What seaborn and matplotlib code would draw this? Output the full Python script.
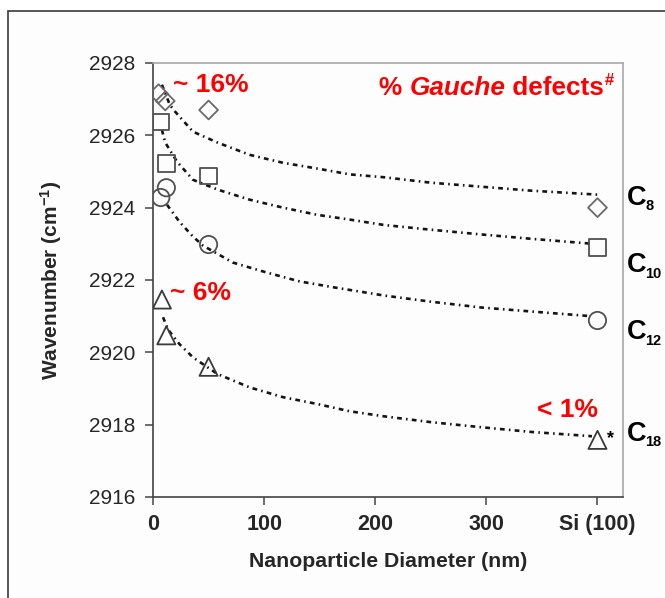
import matplotlib
matplotlib.use("Agg")
import matplotlib.pyplot as plt
from matplotlib.patches import Rectangle
from matplotlib.transforms import blended_transform_factory
import seaborn as sns

# Measured CH2 asymmetric stretch positions (cm^-1) vs. particle diameter (nm);
# 400 on the x axis stands for the flat Si(100) reference surface.
c8_x = [5, 11, 50, 400]
c8_y = [2927.15, 2926.95, 2926.7, 2924.0]
c10_x = [7, 12, 50, 400]
c10_y = [2926.37, 2925.22, 2924.88, 2922.9]
c12_x = [12, 7, 50, 400]
c12_y = [2924.55, 2924.28, 2922.98, 2920.88]
c18_x = [8, 12, 50, 400]
c18_y = [2921.46, 2920.47, 2919.6, 2917.58]

# Trend curves drawn through each chain length
c8_fit_x = [8, 15, 20, 36, 58, 87, 117, 148, 177, 208, 250, 295, 340, 400]
c8_fit_y = [2927.4, 2926.85, 2926.65, 2926.1, 2925.8, 2925.46, 2925.24,
            2925.08, 2924.92, 2924.84, 2924.69, 2924.58, 2924.47, 2924.36]
c10_fit_x = [8, 11, 21.6, 36, 58, 87, 117, 148, 177, 208, 250, 295, 340, 396]
c10_fit_y = [2926.15, 2925.8, 2925.27, 2924.77, 2924.5, 2924.22, 2924.0,
             2923.8, 2923.67, 2923.52, 2923.39, 2923.26, 2923.14, 2923.0]
c12_fit_x = [12.6, 24, 36, 45, 72, 103, 132, 162, 208, 250, 295, 340, 394]
c12_fit_y = [2924.08, 2923.6, 2923.2, 2922.95, 2922.48, 2922.2, 2921.96,
             2921.8, 2921.57, 2921.4, 2921.24, 2921.13, 2921.0]
c18_fit_x = [9, 13.5, 24, 36, 58, 87, 117, 148, 177, 208, 250, 295, 340, 395]
c18_fit_y = [2920.97, 2920.63, 2920.22, 2919.86, 2919.4, 2919.03, 2918.76,
             2918.57, 2918.37, 2918.23, 2918.07, 2917.93, 2917.8, 2917.68]

x_ticks = [0, 100, 200, 300, 400]
x_tick_labels = ["0", "100", "200", "300", "Si (100)"]
y_ticks = [2916, 2918, 2920, 2922, 2924, 2926, 2928]

chain_subscripts = ["8", "10", "12", "18"]
chain_label_y = [2924.08, 2922.21, 2920.36, 2917.55]

sns.set_theme(style="white")
plt.rcParams["font.family"] = ["Liberation Sans", "DejaVu Sans"]
plt.rcParams["mathtext.fontset"] = "custom"
plt.rcParams["mathtext.rm"] = "Liberation Sans:bold"
plt.rcParams["mathtext.bf"] = "Liberation Sans:bold"
plt.rcParams["mathtext.it"] = "Liberation Sans:bold"

fig = plt.figure(figsize=(6.65, 5.98), dpi=100)
fig.patch.set_facecolor("white")
ax = fig.add_axes([0.2301, 0.1689, 0.7068, 0.7258])
ax.set_facecolor("#fdfdfd")

# outer slide frame
fig.patches.append(Rectangle((8 / 665, -0.1), 1.2, 0.1 + (1 - 11 / 598),
                             transform=fig.transFigure, fill=True,
                             facecolor="#fdfdfd", edgecolor="#3a3a3a",
                             linewidth=1.2, zorder=-10))

line_style = (0, (1.8, 1.6, 0.6, 1.6))
for fx, fy in [(c8_fit_x, c8_fit_y), (c10_fit_x, c10_fit_y),
               (c12_fit_x, c12_fit_y), (c18_fit_x, c18_fit_y)]:
    sns.lineplot(x=fx, y=fy, ax=ax, color="#141414", linewidth=1.9,
                 linestyle=line_style, estimator=None, sort=True, zorder=2)

series = [
    (c8_x, c8_y, "D", 92, "#6a6a6a"),
    (c10_x, c10_y, "s", 140, "#505050"),
    (c12_x, c12_y, "o", 155, "#505050"),
    (c18_x, c18_y, "^", 170, "#3a3a3a"),
]
for sx, sy, mk, sz, col in series:
    sns.scatterplot(x=sx, y=sy, ax=ax, marker=mk, s=sz, facecolors="none",
                    edgecolors=col, linewidths=1.3, zorder=3)

ax.set_xlim(0, 423)
ax.set_ylim(2916, 2928)
ax.set_xticks(x_ticks)
ax.set_xticklabels(x_tick_labels, fontsize=15.5, fontweight="bold")
ax.set_yticks(y_ticks)
ax.set_yticklabels([str(v) for v in y_ticks], fontsize=15)
ax.tick_params(axis="both", direction="out", length=6, width=1.1,
               color="#444444", bottom=True, left=True)
ax.tick_params(axis="y", pad=7)
ax.tick_params(axis="x", pad=6)

for side in ["left", "bottom"]:
    ax.spines[side].set_color("#444444")
    ax.spines[side].set_linewidth(1.2)
for side in ["top", "right"]:
    ax.spines[side].set_color("#a8a8a8")
    ax.spines[side].set_linewidth(1.2)

ax.set_ylabel("Wavenumber (cm$^{\\mathbf{-1}}$)", fontsize=15, fontweight="bold")
ax.set_xlabel("Nanoparticle Diameter (nm)", fontsize=15.3, fontweight="bold")
ax.yaxis.set_label_coords(-0.19, 0.5)
ax.xaxis.set_label_coords(0.5, -0.127)

red = "#ff0000"
ax.text(18, 2927.2, "~ 16%", color=red, fontsize=19, fontweight="bold",
        ha="left", va="baseline")
ax.text(15.3, 2921.46, "~ 6%", color=red, fontsize=19, fontweight="bold",
        ha="left", va="baseline")
ax.text(345.6, 2918.2, "< 1%", color=red, fontsize=19, fontweight="bold",
        ha="left", va="baseline")
ax.text(409, 2917.62, "*", color="black", fontsize=13, fontweight="bold",
        ha="left", va="center")

# mixed-style header text
t1 = ax.text(203.4, 2927.12, "% ", color=red, fontsize=18.8,
             fontweight="bold", ha="left", va="baseline")
t2 = ax.annotate("Gauche", xy=(1, 0), xycoords=t1, color=red, fontsize=18.8,
                 fontweight="bold", fontstyle="italic", ha="left", va="bottom")
t3 = ax.annotate(" defects", xy=(1, 0), xycoords=t2, color=red, fontsize=18.8,
                 fontweight="bold", ha="left", va="bottom")
ax.annotate("#", xy=(1, 0.5), xycoords=t3, color=red, fontsize=12,
            fontweight="bold", ha="left", va="bottom")

# chain-length labels beside the right spine: "C" plus a lowered subscript
trans = blended_transform_factory(ax.transAxes, ax.transData)
for sub, ly in zip(chain_subscripts, chain_label_y):
    tc = ax.text(1.008, ly, "C", transform=trans, fontsize=19.5,
                 fontweight="bold", color="black", ha="left", va="baseline",
                 clip_on=False)
    ax.annotate(sub, xy=(1, 0), xycoords=tc, xytext=(-0.5, 0.5),
                textcoords="offset points", fontsize=10.5, fontweight="bold",
                color="black", ha="left", va="baseline",
                annotation_clip=False)

fig.savefig("out.png", dpi=100, facecolor="white")
